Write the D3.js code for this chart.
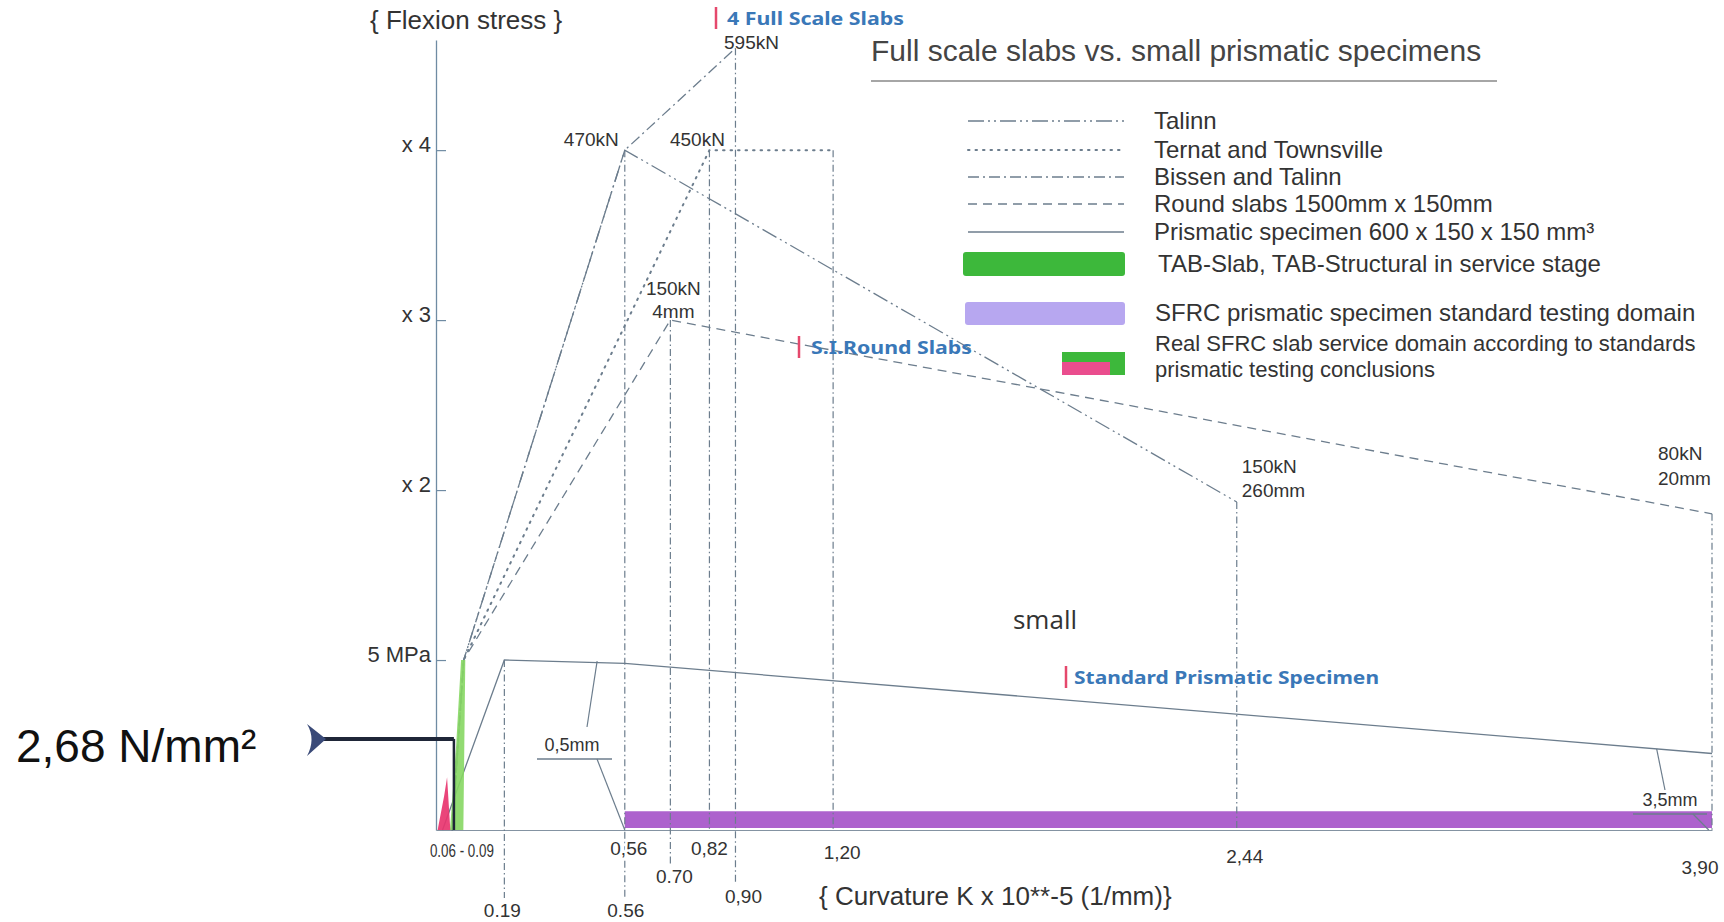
<!DOCTYPE html>
<html><head><meta charset="utf-8">
<script src="https://cdn.jsdelivr.net/npm/d3@7"></script>
<style>
html,body{margin:0;padding:0;background:#fff;}
svg{display:block;}
</style></head><body>
<svg id="chart" width="1724" height="922"></svg>
<script>
// ---------------- DATA ----------------
const stressTicks = [5, 10, 15, 20];
const stressTickLabels = ["5 MPa", "x 2", "x 3", "x 4"];
const curvatureTicks = [0.075, 0.56, 0.82, 1.20, 2.44, 3.90, 0.70, 0.90, 0.19, 0.56];
const curvatureTickLabels = ["0.06 - 0.09", "0,56", "0,82", "1,20", "2,44", "3,90", "0.70", "0,90", "0.19", "0.56"];

const seriesNames = ["Talinn", "Ternat and Townsville", "Bissen and Talinn",
  "Round slabs 1500mm x 150mm", "Prismatic specimen 600 x 150 x 150 mm\u00B3"];
const talinnK = [0.03, 0.065, 0.56, 2.44];
const talinnS = [0, 5.0, 20.0, 9.65];
const ternatK = [0.03, 0.065, 0.82, 1.20];
const ternatS = [0, 5.0, 20.0, 20.0];
const bissenK = [0.03, 0.065, 0.56, 0.90];
const bissenS = [0, 5.0, 20.0, 23.0];
const roundK = [0.03, 0.065, 0.70, 3.90];
const roundS = [0, 5.0, 15.0, 9.3];
const prismK = [0, 0.19, 0.56, 3.90];
const prismS = [0, 5.0, 4.9, 2.25];

const dropK = [0.19, 0.56, 0.70, 0.82, 0.90, 1.20, 2.44, 3.90];
const dropS = [5.0, 20.0, 15.0, 20.0, 23.0, 20.0, 9.65, 9.3];

const peakK = [0.56, 0.82, 0.90, 0.70, 2.44, 3.90];
const peakS = [20.0, 20.0, 23.0, 15.0, 9.65, 9.3];
const peakLoad = ["470kN", "450kN", "595kN", "150kN", "150kN", "80kN"];
const peakDefl = ["", "", "", "4mm", "260mm", "20mm"];

const crackLabels = ["0,5mm", "3,5mm"];
const crackCurveK = [0.475, 3.73];
const crackBaseK = [0.56, 3.89];

const tabK = [0.023, 0.042, 0.057, 0.070, 0.067, 0.064];
const tabS = [0, 2.5, 5.0, 5.0, 2.5, 0];
const realK = [-0.015, 0.005, 0.014, 0.024];
const realS = [0, 1.0, 1.55, 0];
const sfrcK = [0.56, 3.90, 3.90, 0.56];
const sfrcS = [0.55, 0.55, 0.06, 0.06];

const markerK = 0.035;
const markerS = 2.68;
const markerLabel = "2,68 N/mm\u00B2";

const groupLabels = ["4 Full Scale Slabs", "S.I.Round Slabs", "Standard Prismatic Specimen"];
const areaLegend = ["TAB-Slab, TAB-Structural in service stage",
  "SFRC prismatic specimen standard testing domain",
  "Real SFRC slab service domain according to standards",
  "prismatic testing conclusions"];

// ---------------- DRAW ----------------
const svg = d3.select("#chart");
const FONT = "'Liberation Sans', Arial, Helvetica, sans-serif";
const TXT = "#333";
const LINE = "#6c7d8d";
const AX = "#6f8ba3";

const x = d3.scaleLinear().domain([-0.02, 3.90]).range([436, 1712]);
const y = d3.scaleLinear().domain([0, 23.24]).range([830, 40]);
const line = d3.line().x(d => x(d[0])).y(d => y(d[1]));
const poly = pts => line(pts) + "Z";

// axes
const gy = svg.append("g").attr("transform", `translate(${x(-0.02)},0)`)
  .call(d3.axisLeft(y).tickValues(stressTicks).tickFormat((d, i) => stressTickLabels[i])
    .tickSizeInner(-10).tickSizeOuter(0).tickPadding(5));
gy.select(".domain").attr("stroke", AX).attr("stroke-width", 1.3);
gy.selectAll(".tick line").attr("stroke", AX).attr("stroke-width", 1.2);
gy.selectAll(".tick text").attr("font-family", FONT).attr("font-size", 22)
  .attr("fill", TXT).attr("dy", "0.05em");

const gx = svg.append("g").attr("transform", `translate(0,${y(0)})`)
  .call(d3.axisBottom(x).tickValues([]).tickSizeOuter(0));
gx.select(".domain").attr("stroke", "#8493a2").attr("stroke-width", 1.2);

// purple SFRC band
svg.append("path").attr("d", poly(d3.zip(sfrcK, sfrcS)))
  .attr("fill", "#a24cc6").attr("opacity", 0.88);

// vertical drop lines
const dropBottom = {0.19: 898, 0.56: 898, 0.70: 864, 0.90: 884};
dropK.forEach((k, i) => {
  svg.append("line").attr("x1", x(k)).attr("x2", x(k))
    .attr("y1", y(dropS[i])).attr("y2", dropBottom[k] || y(0))
    .attr("stroke", LINE).attr("stroke-width", 1.2).attr("stroke-dasharray", "7,3,1.5,3");
});

// series
const series = [
  {k: talinnK, s: talinnS, dash: "16,4,2,4,2,4", w: 1.3},
  {k: ternatK, s: ternatS, dash: "1.5,6", w: 2, cap: "round"},
  {k: bissenK, s: bissenS, dash: "11,4,2,4", w: 1.3},
  {k: roundK, s: roundS, dash: "9,6", w: 1.3},
  {k: prismK, s: prismS, dash: null, w: 1.3}
];
series.forEach(se => {
  svg.append("path").attr("d", line(d3.zip(se.k, se.s))).attr("fill", "none")
    .attr("stroke", LINE).attr("stroke-width", se.w)
    .attr("stroke-dasharray", se.dash).attr("stroke-linecap", se.cap || "butt");
});

// green TAB band and pink real domain
svg.append("path").attr("d", poly(d3.zip(tabK, tabS))).attr("fill", "#86d763").attr("opacity", 0.9);
svg.append("path").attr("d", poly(d3.zip(realK, realS))).attr("fill", "#e8356f").attr("opacity", 0.92);

// 2,68 marker
const mx = x(markerK), my = y(markerS);
svg.append("line").attr("x1", 318).attr("x2", mx).attr("y1", my).attr("y2", my)
  .attr("stroke", "#1f2638").attr("stroke-width", 4);
svg.append("line").attr("x1", mx).attr("x2", mx).attr("y1", my).attr("y2", y(0))
  .attr("stroke", "#1f2638").attr("stroke-width", 2.5);
svg.append("path").attr("d", `M${326},${my} L${307},${my - 15} Q${316},${my} ${307},${my + 17} Z`)
  .attr("fill", "#3a4a78");
svg.append("text").attr("x", 16).attr("y", my + 23).text(markerLabel)
  .attr("font-family", FONT).attr("font-size", 46).attr("fill", "#111");

// x tick labels
const xLab = [
  {y: 857, dx: -5, len: 64}, {y: 855, dx: 4}, {y: 855, dx: 0}, {y: 859, dx: 9},
  {y: 863, dx: 8}, {y: 874, dx: -12}, {y: 883, dx: 4}, {y: 903, dx: 8},
  {y: 917, dx: -2}, {y: 917, dx: 1}
];
curvatureTicks.forEach((k, i) => {
  const t = svg.append("text").attr("x", x(k) + xLab[i].dx).attr("y", xLab[i].y)
    .attr("text-anchor", "middle").text(curvatureTickLabels[i])
    .attr("font-family", FONT).attr("font-size", 19).attr("fill", TXT)
    .attr("stroke", "#fff").attr("stroke-width", 5).attr("paint-order", "stroke");
  if (xLab[i].len) t.attr("textLength", xLab[i].len).attr("lengthAdjust", "spacingAndGlyphs");
});

// peak labels
const pkLay = [
  {a: "end", dx: -6, d1: -4}, {a: "middle", dx: -12, d1: -4}, {a: "middle", dx: 16, d1: 1},
  {a: "middle", dx: 3, d1: -25, d2: -2}, {a: "start", dx: 5, d1: -29, d2: -5},
  {a: "start", dx: -54, d1: -54, d2: -29}
];
peakK.forEach((k, i) => {
  const L = pkLay[i];
  svg.append("text").attr("x", x(k) + L.dx).attr("y", y(peakS[i]) + L.d1)
    .attr("text-anchor", L.a).text(peakLoad[i])
    .attr("font-family", FONT).attr("font-size", 19).attr("fill", TXT);
  if (peakDefl[i]) svg.append("text").attr("x", x(k) + L.dx).attr("y", y(peakS[i]) + L.d2)
    .attr("text-anchor", L.a).text(peakDefl[i])
    .attr("font-family", FONT).attr("font-size", 19).attr("fill", TXT);
});

// crack opening annotations
const crLay = [{cx: 572, by: 751, ul: [537, 612], lu: [587, 727], ld: 597},
               {cx: 1670, by: 806, ul: [1633, 1707], lu: [1665, 790], ld: 1693}];
crackLabels.forEach((t, i) => {
  const L = crLay[i];
  const cy = d3.scaleLinear().domain(prismK.slice(2)).range(prismS.slice(2))(crackCurveK[i]);
  svg.append("text").attr("x", L.cx).attr("y", L.by).attr("text-anchor", "middle").text(t)
    .attr("font-family", FONT).attr("font-size", 18).attr("fill", TXT);
  svg.append("line").attr("x1", L.ul[0]).attr("x2", L.ul[1]).attr("y1", L.by + 8).attr("y2", L.by + 8)
    .attr("stroke", LINE).attr("stroke-width", 1.3);
  svg.append("line").attr("x1", L.lu[0]).attr("y1", L.lu[1]).attr("x2", x(crackCurveK[i])).attr("y2", y(cy))
    .attr("stroke", LINE).attr("stroke-width", 1.2);
  svg.append("line").attr("x1", L.ld).attr("y1", L.by + 8).attr("x2", x(crackBaseK[i])).attr("y2", y(0))
    .attr("stroke", LINE).attr("stroke-width", 1.2);
});

// blue group labels with red bars
const gLay = [{x: 727, y: 25, len: 177, bar: 716}, {x: 811, y: 354, len: 161, bar: 799},
              {x: 1074, y: 684, len: 305, bar: 1066}];
groupLabels.forEach((t, i) => {
  const L = gLay[i];
  svg.append("line").attr("x1", L.bar).attr("x2", L.bar).attr("y1", L.y - 18).attr("y2", L.y + 4)
    .attr("stroke", "#e5486c").attr("stroke-width", 2.5);
  svg.append("text").attr("x", L.x).attr("y", L.y).text(t)
    .attr("font-family", "'Noto Sans', 'Open Sans', sans-serif").attr("font-weight", "bold")
    .attr("font-size", 18).attr("fill", "#3a78b8")
    .attr("textLength", L.len).attr("lengthAdjust", "spacingAndGlyphs");
});

// "small"
svg.append("text").attr("x", 1045).attr("y", 629).attr("text-anchor", "middle").text("small")
  .attr("font-family", "'Open Sans', sans-serif").attr("font-size", 26).attr("fill", TXT);

// axis titles
svg.append("text").attr("x", 370).attr("y", 29).text("{ Flexion stress }")
  .attr("font-family", FONT).attr("font-size", 26).attr("fill", TXT);
svg.append("text").attr("x", 819).attr("y", 905).text("{ Curvature K x 10**-5 (1/mm)}")
  .attr("font-family", FONT).attr("font-size", 26).attr("fill", TXT);

// legend title
svg.append("text").attr("x", 871).attr("y", 61).text("Full scale slabs vs. small prismatic specimens")
  .attr("font-family", FONT).attr("font-size", 30).attr("fill", "#444");
svg.append("line").attr("x1", 871).attr("x2", 1497).attr("y1", 81).attr("y2", 81)
  .attr("stroke", "#888").attr("stroke-width", 1.5);

// legend lines
const legY = [121, 150, 177, 204, 232];
seriesNames.forEach((n, i) => {
  const se = series[i];
  svg.append("line").attr("x1", 968).attr("x2", 1124).attr("y1", legY[i]).attr("y2", legY[i])
    .attr("stroke", LINE).attr("stroke-width", se.w).attr("stroke-dasharray", se.dash)
    .attr("stroke-linecap", se.cap || "butt");
  svg.append("text").attr("x", 1154).attr("y", legY[i] + 8).text(n)
    .attr("font-family", FONT).attr("font-size", 24).attr("fill", TXT);
});
// legend swatches
svg.append("rect").attr("x", 963).attr("y", 252).attr("width", 162).attr("height", 24).attr("rx", 3)
  .attr("fill", "#3db83b");
svg.append("text").attr("x", 1158).attr("y", 272).text(areaLegend[0])
  .attr("font-family", FONT).attr("font-size", 24).attr("fill", TXT);
svg.append("rect").attr("x", 965).attr("y", 302).attr("width", 160).attr("height", 23).attr("rx", 3)
  .attr("fill", "#b7a7f0");
svg.append("text").attr("x", 1155).attr("y", 321).text(areaLegend[1])
  .attr("font-family", FONT).attr("font-size", 24).attr("fill", TXT);
svg.append("rect").attr("x", 1062).attr("y", 352).attr("width", 63).attr("height", 23)
  .attr("fill", "#3db83b");
svg.append("rect").attr("x", 1062).attr("y", 362).attr("width", 48).attr("height", 13)
  .attr("fill", "#ea4d8e");
svg.append("text").attr("x", 1155).attr("y", 351).text(areaLegend[2])
  .attr("font-family", FONT).attr("font-size", 22).attr("fill", TXT);
svg.append("text").attr("x", 1155).attr("y", 377).text(areaLegend[3])
  .attr("font-family", FONT).attr("font-size", 22).attr("fill", TXT);
</script>
</body></html>
